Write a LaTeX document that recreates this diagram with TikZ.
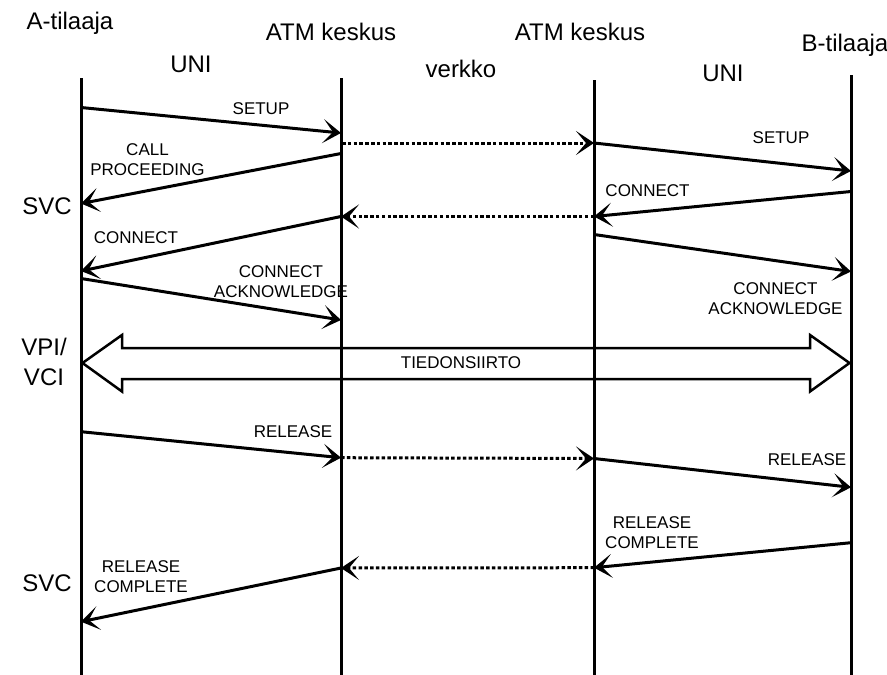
\documentclass[tikz,border=0pt]{standalone}
\usepackage{fontspec}
\setmainfont{Liberation Sans}
\usetikzlibrary{arrows.meta}
\begin{document}
\begin{tikzpicture}[x=1pt,y=-1pt,
 lifeline/.style={line width=3pt},
 msg/.style={line width=3pt,-{Stealth[length=18pt,width=24pt,inset=10pt]}},
 relay/.style={msg, dash pattern=on 3.5pt off 2.3pt},
 big/.style={font=\fontsize{24}{28}\selectfont, inner sep=0pt, anchor=base},
 small/.style={font=\fontsize{17}{20}\selectfont, inner sep=0pt, align=center},
 bigarrow/.style={line width=2.5pt, line join=miter},
]
\useasboundingbox (0,0) rectangle (887,675);

% header labels
\node[big] (hA) at (70,29) {A-tilaaja};
\node[big] (hM) at (331,40) {ATM keskus};
\node[big] (hN) at (580,40) {ATM keskus};
\node[big] (hB) at (845,51) {B-tilaaja};
\node[big] (hU1) at (191,72) {UNI};
\node[big] (hV) at (461,77) {verkko};
\node[big] (hU2) at (723,81) {UNI};
\node[big] (svc1) at (47,214) {SVC};
\node[big] (vpi) at (44,355) {VPI/};
\node[big] (vci) at (44,385) {VCI};
\node[big] (svc2) at (47,591) {SVC};

% lifelines
\coordinate (Atop) at (81,78);   \coordinate (Abot) at (81,675);
\coordinate (Mtop) at (341,78);  \coordinate (Mbot) at (341,675);
\coordinate (Ntop) at (594,80);  \coordinate (Nbot) at (594,675);
\coordinate (Btop) at (851,75);  \coordinate (Bbot) at (851,675);
\draw[lifeline] (Atop) -- (Abot);
\draw[lifeline] (Mtop) -- (Mbot);
\draw[lifeline] (Ntop) -- (Nbot);
\draw[lifeline] (Btop) -- (Bbot);

% message end points
\coordinate (A1) at (81,107.5);  \coordinate (M1) at (341,133);
\coordinate (M1b) at (341,153.5);\coordinate (A2) at (81,203.5);
\coordinate (M1c) at (342,143);  \coordinate (N1) at (594,143);
\coordinate (B1) at (851,171);
\coordinate (B2) at (851,191.5); \coordinate (N2) at (594,216.5);
\coordinate (M2) at (341,216.5);
\coordinate (A3) at (81,271);
\coordinate (N3) at (594,234.5); \coordinate (B3) at (851,271.5);
\coordinate (A4) at (81,278.5);  \coordinate (M4) at (341,320);
\coordinate (A5) at (81,431.7);  \coordinate (M5) at (341,457.7);
\coordinate (N5) at (594,458.5); \coordinate (B5) at (851,487.3);
\coordinate (B6) at (851,542.7); \coordinate (N6) at (594,567.7);
\coordinate (M6) at (341,568);   \coordinate (A6) at (81,621.7);

\draw[msg] (A1) -- (M1);
\draw[msg] (M1b) -- (A2);
\draw[relay] (M1c) -- (N1);
\draw[msg] (N1) -- (B1);
\draw[msg] (B2) -- (N2);
\draw[relay] (N2) -- (M2);
\draw[msg] (M2) -- (A3);
\draw[msg] (N3) -- (B3);
\draw[msg] (A4) -- (M4);
\draw[msg] (A5) -- (M5);
\draw[relay] (M5) -- (N5);
\draw[msg] (N5) -- (B5);
\draw[msg] (B6) -- (N6);
\draw[relay] (N6) -- (M6);
\draw[msg] (M6) -- (A6);

% message labels
\node[small] (l1) at (261,109) {SETUP};
\node[small] (l2) at (147.5,159.5) {CALL\\PROCEEDING};
\node[small] (l3) at (781,138) {SETUP};
\node[small] (l4) at (647.5,191) {CONNECT};
\node[small] (l5) at (136,238) {CONNECT};
\node[small] (l6) at (281,282) {CONNECT\\ACKNOWLEDGE};
\node[small] (l7) at (775.5,298.5) {CONNECT\\ACKNOWLEDGE};
\node[small] (l8) at (293,432) {RELEASE};
\node[small] (l9) at (807,460) {RELEASE};
\node[small] (l10) at (652,533) {RELEASE\\COMPLETE};
\node[small] (l11) at (141,576.7) {RELEASE\\COMPLETE};

% data transfer double arrow
\draw[bigarrow] (82.5,363) -- (122,335) -- (122,348) -- (810,348) -- (810,335)
  -- (849.5,363) -- (810,391.5) -- (810,379) -- (122,379) -- (122,391.5) -- cycle;
\node[small] (tds) at (461,363) {TIEDONSIIRTO};
\end{tikzpicture}
\end{document}
